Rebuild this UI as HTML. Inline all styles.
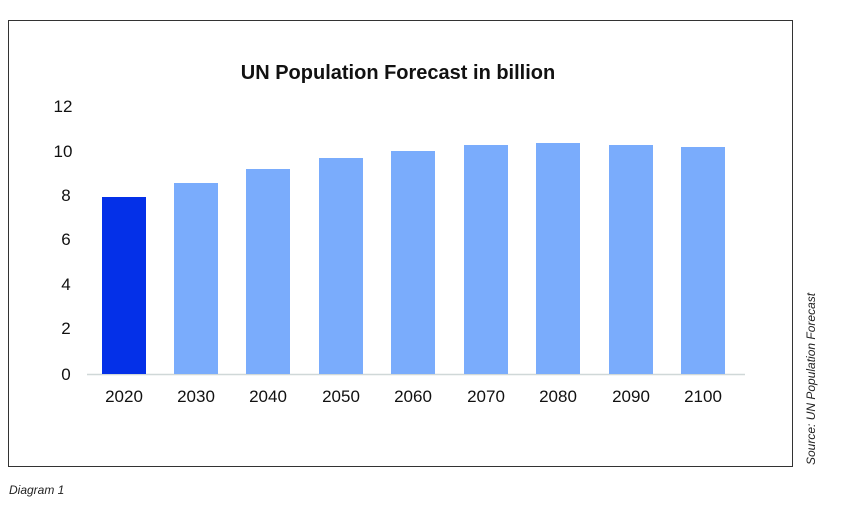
<!DOCTYPE html>
<html><head><style>body{margin:0;background:#fff}svg{display:block}</style></head><body>
<svg width="848" height="505" xmlns="http://www.w3.org/2000/svg" font-family="Liberation Sans, sans-serif">
<rect x="8.5" y="20.5" width="784" height="446" fill="#fff" stroke="#333" stroke-width="1"/>
<text x="398" y="79" text-anchor="middle" font-size="20" font-weight="bold" fill="#111">UN Population Forecast in billion</text>
<g font-size="17" fill="#111" text-anchor="middle">
<text x="63" y="112">12</text><text x="63" y="157">10</text><text x="66" y="201">8</text><text x="66" y="245">6</text><text x="66" y="290">4</text><text x="66" y="334">2</text><text x="66" y="380">0</text>
</g>
<line x1="87" y1="374.5" x2="745" y2="374.5" stroke="#d0d8d8" stroke-width="1.5"/>
<g fill="#7aacfc">
<rect x="102" y="197" width="44" height="177" fill="#0430e8"/>
<rect x="174" y="183" width="44" height="191"/>
<rect x="246" y="169" width="44" height="205"/>
<rect x="319" y="158" width="44" height="216"/>
<rect x="391" y="151" width="44" height="223"/>
<rect x="464" y="145" width="44" height="229"/>
<rect x="536" y="143" width="44" height="231"/>
<rect x="609" y="145" width="44" height="229"/>
<rect x="681" y="147" width="44" height="227"/>
</g>
<g font-size="17" fill="#111" text-anchor="middle">
<text x="124" y="402">2020</text><text x="196" y="402">2030</text><text x="268" y="402">2040</text><text x="341" y="402">2050</text><text x="413" y="402">2060</text><text x="486" y="402">2070</text><text x="558" y="402">2080</text><text x="631" y="402">2090</text><text x="703" y="402">2100</text>
</g>
<text x="9" y="494" font-size="12" font-style="italic" fill="#222">Diagram 1</text>
<text transform="translate(815,465) rotate(-90)" font-size="12" font-style="italic" fill="#222">Source: UN Population Forecast</text>
</svg>
</body></html>
